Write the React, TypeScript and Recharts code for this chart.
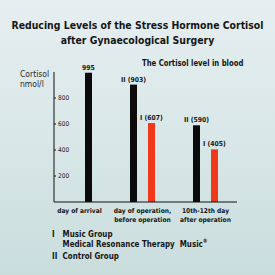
import React from "react";
import { BarChart, Bar, XAxis, YAxis, LabelList } from "recharts";

const categories = [
  ["day of arrival"],
  ["day of operation,", "before operation"],
  ["10th-12th day", "after operation"],
];
const baseline = [995, null, null];
const controlGroup = [null, 903, 590];
const musicGroup = [null, 607, 405];
const yTicks = [200, 400, 600, 800];

const data = categories.map((lines, i) => ({
  name: lines.join(" "),
  baseline: baseline[i],
  control: controlGroup[i],
  music: musicGroup[i],
}));

const FONT = '"Liberation Sans Narrow", "DejaVu Sans Condensed", Arial, sans-serif';
const INK = "#161616";
const RED = "#f0391a";

function CategoryTick(props: any) {
  const { x, y, index } = props;
  const lines = categories[index] || [];
  return (
    <text
      x={x}
      y={y + 3}
      textAnchor="middle"
      fontFamily={FONT}
      fontWeight="bold"
      fontSize={6.6}
      fill={INK}
    >
      {lines.map((l, i) => (
        <tspan key={i} x={x} dy={i === 0 ? 0 : 8.5}>
          {l}
        </tspan>
      ))}
    </text>
  );
}

const labelStyle = {
  fontFamily: FONT,
  fontWeight: "bold" as const,
  fontSize: 6.8,
  fill: INK,
};

const fmt = (prefix: string) => (v: any) =>
  v === null || v === undefined || v === 0
    ? ""
    : prefix
    ? `${prefix}\u00A0(${v})`
    : String(v);

export default function App() {
  return (
    <div
      style={{
        position: "fixed",
        left: 0,
        top: 0,
        width: 275,
        height: 275,
        overflow: "hidden",
        background: "linear-gradient(180deg, #e6eef0 0%, #d9e7e8 50%, #cadddd 100%)",
        fontFamily: FONT,
        color: INK,
      }}
    >
      <div
        style={{
          position: "absolute",
          top: 18,
          left: 0,
          width: 275,
          textAlign: "center",
          fontWeight: "bold",
          fontSize: 10.4,
          lineHeight: "15px",
        }}
      >
        Reducing Levels of the Stress Hormone Cortisol
        <br />
        after Gynaecological Surgery
      </div>
      <div
        style={{
          position: "absolute",
          top: 58,
          left: 142,
          fontWeight: "bold",
          fontSize: 8.5,
          transform: "scaleX(0.9)",
          transformOrigin: "left",
          whiteSpace: "nowrap",
        }}
      >
        The Cortisol level in blood
      </div>
      <div
        style={{
          position: "absolute",
          top: 69,
          left: 20,
          fontSize: 8.5,
          lineHeight: "10px",
          color: "#2a2a2a",
        }}
      >
        Cortisol
        <br />
        nmol/l
      </div>
      <div style={{ position: "absolute", left: 0, top: 0 }}>
        <BarChart
          width={275}
          height={275}
          data={data}
          margin={{ top: 72, right: 38, bottom: 43, left: 54 }}
          barSize={7}
          barGap={11}
        >
          <XAxis
            dataKey="name"
            height={30}
            tickLine={false}
            axisLine={{ stroke: "#111", strokeWidth: 1 }}
            tick={<CategoryTick />}
            interval={0}
            padding={{ left: -6, right: 0 }}
          />
          <YAxis
            domain={[0, 1000]}
            ticks={yTicks}
            mirror
            tickSize={2}
            tickMargin={2}
            axisLine={{ stroke: "#111", strokeWidth: 1 }}
            tickLine={{ stroke: "#111" }}
            tick={{ fontFamily: FONT, fontSize: 6.5, fill: "#222" }}
          />
          <Bar dataKey="control" stackId="c" fill="#0b0b0b" isAnimationActive={false}>
            <LabelList
              dataKey="control"
              position="top"
              offset={3}
              formatter={fmt("II")}
              style={labelStyle}
            />
          </Bar>
          <Bar dataKey="baseline" stackId="s" fill="#0b0b0b" isAnimationActive={false}>
            <LabelList
              dataKey="baseline"
              position="top"
              offset={3}
              formatter={fmt("")}
              style={labelStyle}
            />
          </Bar>
          <Bar dataKey="music" stackId="s" fill={RED} isAnimationActive={false}>
            <LabelList
              dataKey="music"
              position="top"
              offset={3}
              formatter={fmt("I")}
              style={labelStyle}
            />
          </Bar>
        </BarChart>
      </div>
      <div
        style={{
          position: "absolute",
          top: 229,
          left: 52,
          fontWeight: "bold",
          fontSize: 9,
          lineHeight: "10px",
          transform: "scaleX(0.88)",
          transformOrigin: "left",
          whiteSpace: "nowrap",
        }}
      >
        <div style={{ display: "flex" }}>
          <span style={{ width: 12 }}>I</span>
          <span>
            Music Group
            <br />
            Medical Resonance Therapy&nbsp; Music
            <sup style={{ fontSize: 6, lineHeight: 0 }}>®</sup>
          </span>
        </div>
        <div style={{ display: "flex", marginTop: 2 }}>
          <span style={{ width: 12 }}>II</span>
          <span>Control Group</span>
        </div>
      </div>
    </div>
  );
}
